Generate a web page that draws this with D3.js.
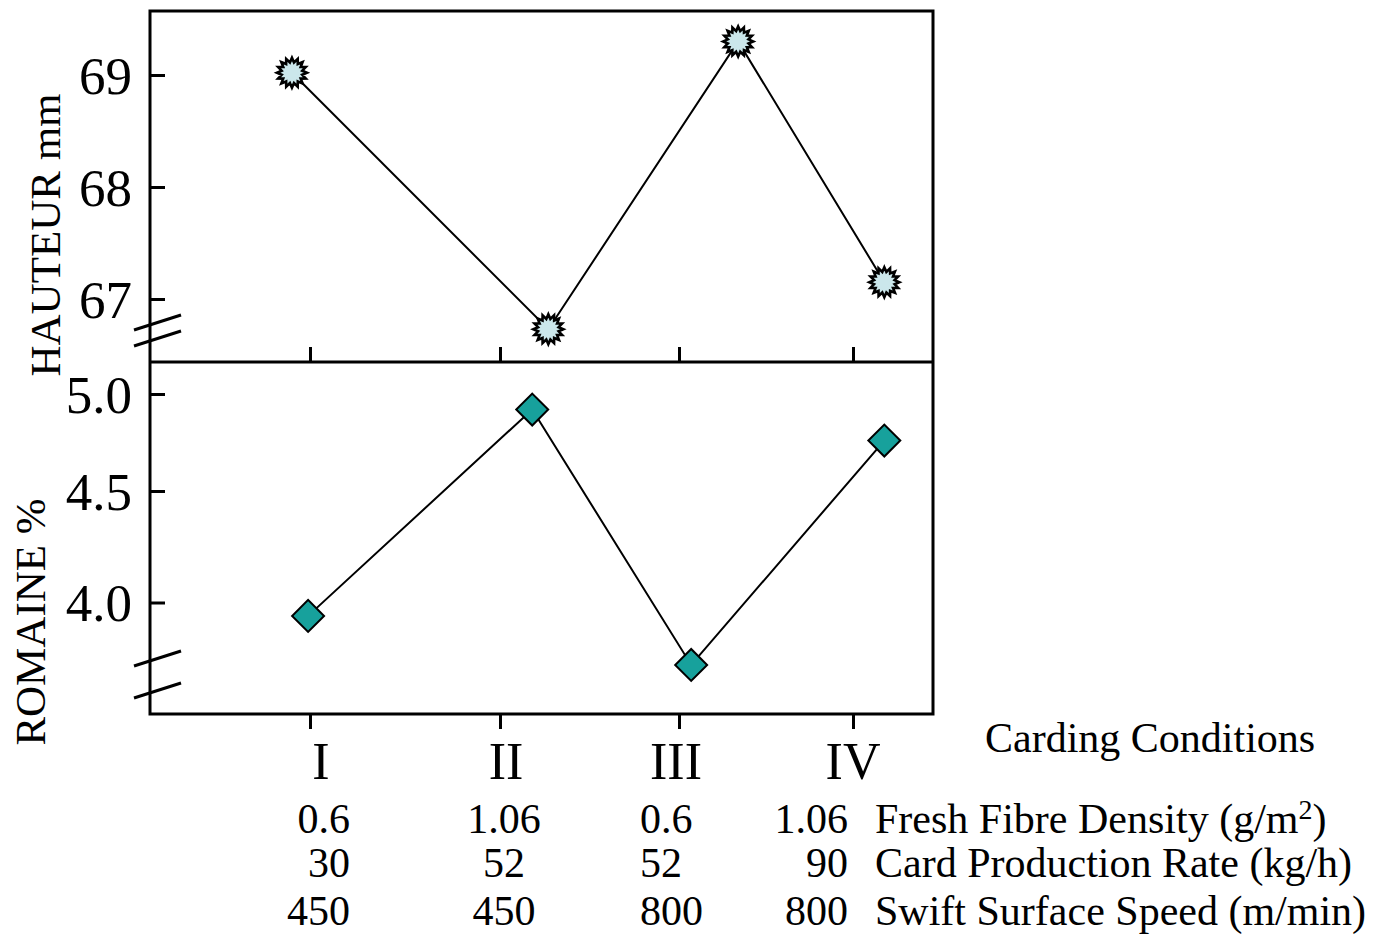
<!DOCTYPE html>
<html>
<head>
<meta charset="utf-8">
<script src="https://cdn.jsdelivr.net/npm/d3@7/dist/d3.min.js"></script>
<style>
  html, body { margin: 0; padding: 0; background: #fff; }
  svg text { font-family: "Liberation Serif", "Times New Roman", serif; fill: #000; }
</style>
</head>
<body>
<svg id="chart" width="1375" height="934"></svg>
<script>
// Carding conditions and measured responses
const conditions = ["I", "II", "III", "IV"];
const hauteur = [69.02, 66.73, 69.30, 67.15];   // HAUTEUR mm
const romaine = [3.94, 4.92, 3.72, 4.76];       // ROMAINE %
const hauteurTicks = [67, 68, 69];
const romaineTicks = [4.0, 4.5, 5.0];

// Settings table under the x axis
const freshFibreDensity = ["0.6", "1.06", "0.6", "1.06"];
const cardProductionRate = ["30", "52", "52", "90"];
const swiftSurfaceSpeed = ["450", "450", "800", "800"];
const settingLabels = ["Fresh Fibre Density (g/m", "Card Production Rate (kg/h)", "Swift Surface Speed (m/min)"];

const svg = d3.select("#chart");

const frameLeft = 150, frameRight = 933, frameTop = 11, frameMid = 362, frameBottom = 714;

// condition index -> horizontal position
const x = d3.scaleLinear().domain([1, 2, 3, 4]).range([310, 500, 679, 853]);
const yTop = d3.scaleLinear().domain([67, 69]).range([299, 75]);
const yBot = d3.scaleLinear().domain([3.5, 4.5, 5.0]).range([frameBottom, 491, 394]);

// small horizontal dodge of the markers around each condition
const dodgeTop = [-0.095, 0.27, 0.34, 0.18];
const dodgeBot = [-0.01, 0.18, 0.07, 0.18];

// frames
svg.append("path")
  .attr("d", `M${frameLeft},${frameTop}H${frameRight}V${frameBottom}H${frameLeft}Z M${frameLeft},${frameMid}H${frameRight}`)
  .attr("fill", "none").attr("stroke", "#000").attr("stroke-width", 3);

// y axes (inward ticks)
const axTop = svg.append("g").attr("transform", `translate(${frameLeft},0)`)
  .call(d3.axisRight(yTop).tickValues(hauteurTicks).tickSize(15).tickFormat(d3.format("d")));
const axBot = svg.append("g").attr("transform", `translate(${frameLeft},0)`)
  .call(d3.axisRight(yBot).tickValues(romaineTicks).tickSize(15).tickFormat(d3.format(".1f")));
[axTop, axBot].forEach(g => {
  g.select(".domain").remove();
  g.selectAll(".tick line").attr("stroke", "#000").attr("stroke-width", 3);
  g.selectAll(".tick text").attr("x", -18).attr("text-anchor", "end")
    .attr("font-size", 53).attr("dy", "0.34em").attr("font-family", "Liberation Serif");
});

// x ticks: up from the panel divider, down from the bottom frame
const idx = conditions.map((c, i) => i + 1);
const axMid = svg.append("g").attr("transform", `translate(0,${frameMid})`)
  .call(d3.axisTop(x).tickValues(idx).tickSize(15).tickFormat(""));
const axBottom = svg.append("g").attr("transform", `translate(0,${frameBottom})`)
  .call(d3.axisBottom(x).tickValues(idx).tickSize(15).tickFormat(""));
[axMid, axBottom].forEach(g => {
  g.select(".domain").remove();
  g.selectAll(".tick line").attr("stroke", "#000").attr("stroke-width", 3);
});

// condition numerals
svg.append("g").selectAll("text").data(conditions).join("text")
  .attr("x", (d, i) => x(i + 1) + (i === 0 ? 11 : i === 1 ? 6 : i === 2 ? -3 : 0))
  .attr("y", 779).attr("text-anchor", "middle").attr("font-size", 52)
  .text(d => d);

// axis breaks
function breakMarks(y0, gap) {
  [y0, y0 + gap].forEach(yy => {
    svg.append("line")
      .attr("x1", frameLeft - 16).attr("y1", yy)
      .attr("x2", frameLeft + 31).attr("y2", yy - 15)
      .attr("stroke", "#000").attr("stroke-width", 3);
  });
}
breakMarks(330, 16);
breakMarks(666, 32);

// axis titles
svg.append("text").attr("transform", "translate(60,235) rotate(-90)")
  .attr("text-anchor", "middle").attr("font-size", 43).text("HAUTEUR mm");
svg.append("text").attr("transform", "translate(45,622) rotate(-90)")
  .attr("text-anchor", "middle").attr("font-size", 43).text("ROMAINE %");

// connecting lines
const lineTop = d3.line().x((d, i) => x(i + 1 + dodgeTop[i])).y(d => yTop(d));
const lineBot = d3.line().x((d, i) => x(i + 1 + dodgeBot[i])).y(d => yBot(d));
svg.append("path").attr("d", lineTop(hauteur)).attr("fill", "none").attr("stroke", "#000").attr("stroke-width", 2);
svg.append("path").attr("d", lineBot(romaine)).attr("fill", "none").attr("stroke", "#000").attr("stroke-width", 2);

// starburst markers
const spikes = 16;
const starPts = d3.range(spikes * 2).map(k => [k * Math.PI / spikes, k % 2 ? 10.5 : 15]);
const starPath = d3.lineRadial().curve(d3.curveLinearClosed)(starPts);
svg.append("g").selectAll("path").data(hauteur).join("path")
  .attr("d", starPath)
  .attr("transform", (d, i) => `translate(${x(i + 1 + dodgeTop[i])},${yTop(d)})`)
  .attr("fill", "#cbe7eb").attr("stroke", "#000").attr("stroke-width", 2.6).attr("stroke-linejoin", "miter");

// diamond markers
const diamond = d3.symbol().type(d3.symbolSquare).size(510)();
svg.append("g").selectAll("path").data(romaine).join("path")
  .attr("d", diamond)
  .attr("transform", (d, i) => `translate(${x(i + 1 + dodgeBot[i])},${yBot(d)}) rotate(45)`)
  .attr("fill", "#17a19c").attr("stroke", "#000").attr("stroke-width", 2);

// settings table: column anchors follow the printed alignment
const colX = [350, 504, 640, 848];
const colAnchor = ["end", "middle", "start", "end"];
const rows = [freshFibreDensity, cardProductionRate, swiftSurfaceSpeed];
const rowY = [833, 877, 925];
rows.forEach((row, r) => {
  svg.append("g").selectAll("text").data(row).join("text")
    .attr("x", (d, i) => colX[i]).attr("y", rowY[r])
    .attr("text-anchor", (d, i) => colAnchor[i]).attr("font-size", 42).text(d => d);
});
settingLabels.forEach((lab, r) => {
  const t = svg.append("text").attr("x", 875).attr("y", rowY[r]).attr("font-size", 42).text(lab);
  if (r === 0) {
    t.append("tspan").attr("dy", -14).attr("font-size", 28).text("2");
    t.append("tspan").attr("dy", 14).text(")");
  }
});
svg.append("text").attr("x", 985).attr("y", 752).attr("font-size", 42).text("Carding Conditions");
</script>
</body>
</html>
